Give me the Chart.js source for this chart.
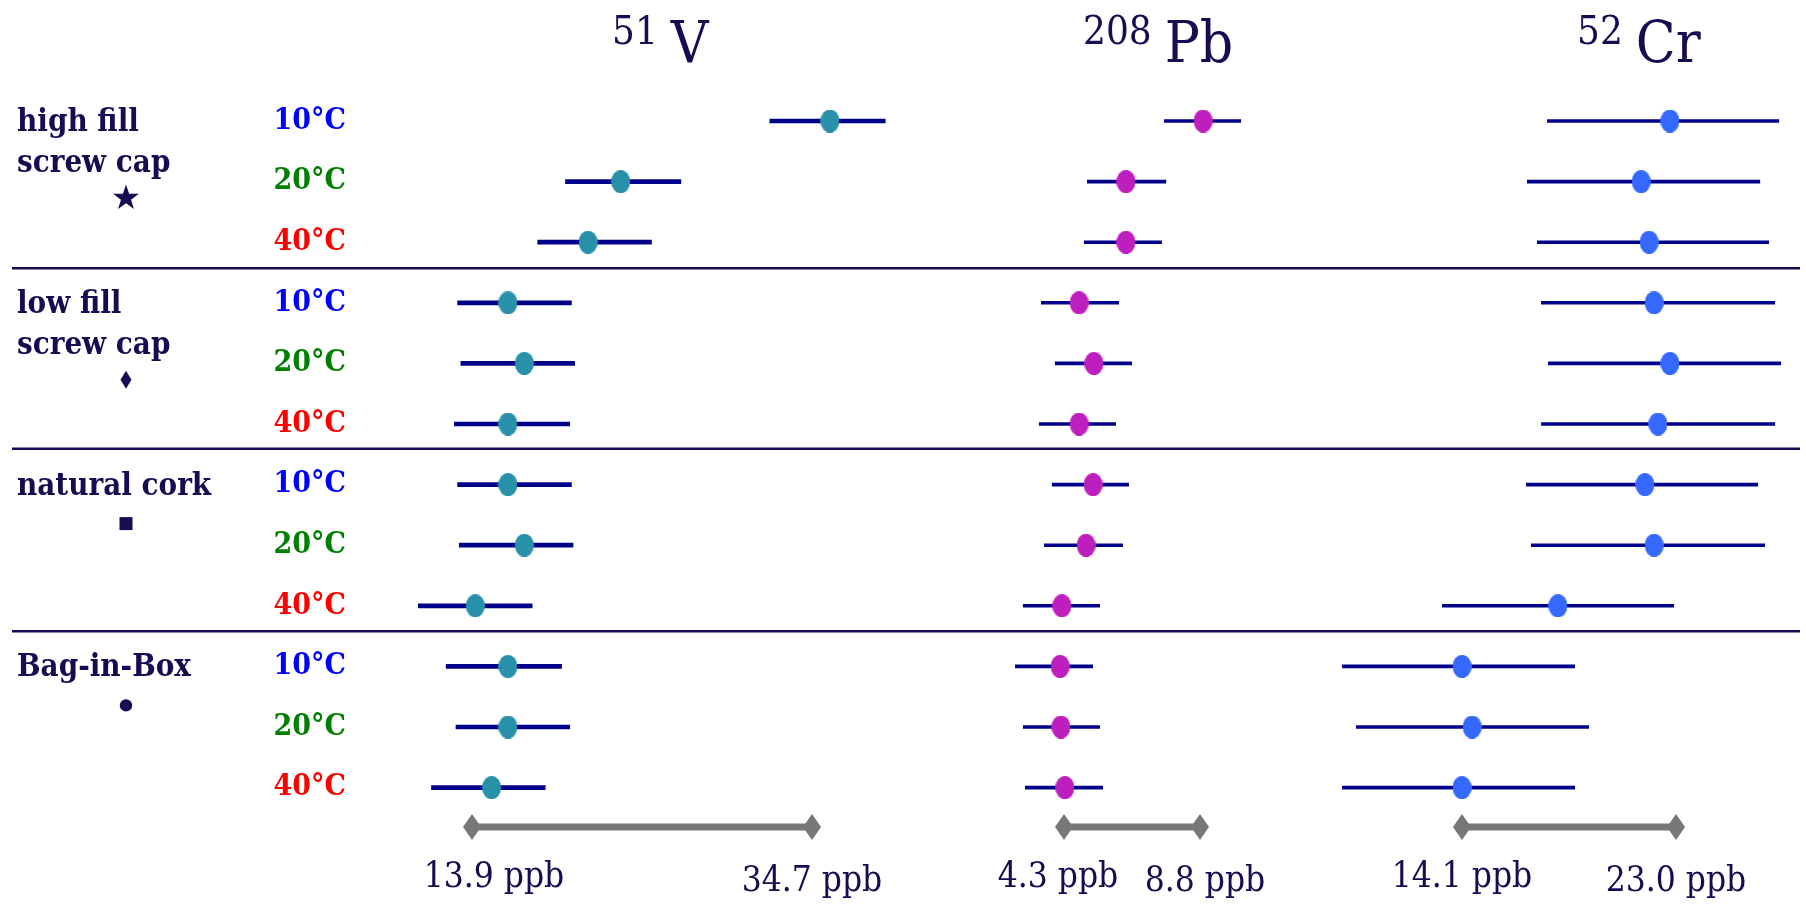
<!DOCTYPE html>
<html>
<head>
<meta charset="utf-8">
<title>V, Pb and Cr by closure and storage temperature</title>
<script src="https://cdn.jsdelivr.net/npm/chart.js"></script>
<style>
  html, body { margin: 0; padding: 0; background: #fff; }
  #chart { display: block; }
</style>
</head>
<body>
<canvas id="chart" width="1806" height="904"></canvas>
<script>
// rows run top to bottom: each closure at 10, 20 and 40 °C
const temps = ['10°C', '20°C', '40°C'];
const tempColors = ['#0000ff', '#008000', '#ff0000'];
const closures = [['high fill', 'screw cap'], ['low fill', 'screw cap'], ['natural cork'], ['Bag-in-Box']];
const closureMarks = ['star', 'diamond', 'square', 'dot'];

const isotopes = ['51', '208', '52'];
const elements = ['V', 'Pb', 'Cr'];

// ppb, mean with low / high end of the error bar
const vMean = [35.8, 23.0, 21.0, 16.1, 17.1, 16.1, 16.1, 17.1, 14.1, 16.1, 16.1, 15.1];
const vLow  = [32.1, 19.6, 17.9, 13.0, 13.2, 12.8, 13.0, 13.1, 10.6, 12.3, 12.9, 11.4];
const vHigh = [39.2, 26.7, 24.9, 20.0, 20.2, 19.9, 20.0, 20.1, 17.6, 19.4, 19.9, 18.4];

const pbMean = [8.90, 6.35, 6.35, 4.80, 5.29, 4.80, 5.26, 5.03, 4.23, 4.17, 4.20, 4.33];
const pbLow  = [7.61, 5.06, 4.96, 3.54, 4.00, 3.47, 3.90, 3.64, 2.94, 2.68, 2.94, 3.01];
const pbHigh = [10.16, 7.68, 7.54, 6.12, 6.55, 6.02, 6.45, 6.25, 5.49, 5.26, 5.49, 5.59];

const crMean = [22.75, 21.55, 21.88, 22.09, 22.75, 22.25, 21.71, 22.09, 18.09, 14.10, 14.52, 14.10];
const crLow  = [17.64, 16.80, 17.22, 17.39, 17.68, 17.39, 16.76, 16.97, 13.27, 9.11, 9.69, 9.11];
const crHigh = [27.29, 26.50, 26.87, 27.12, 27.37, 27.12, 26.41, 26.70, 22.92, 18.80, 19.38, 18.80];

// scale bars under each panel
const vRange = [13.9, 34.7];
const pbRange = [4.3, 8.8];
const crRange = [14.1, 23.0];

// ---- layout ----
const W = 1806, H = 904;
const AXIS_W = 355;
const ROW0 = 121, ROW_H = 60.6;
const RANGE_ROW = 11.65;
const SEPARATORS = [2.43, 5.41, 8.42];
const INK = '#150c52';
const BAR = '#000088';
const SERIF = '"DejaVu Serif Condensed", "DejaVu Serif", serif';

// where the two ends of each scale bar sit on the canvas
const panelPx = [[472, 812], [1064, 1200], [1462, 1676]];
const titleX = [612, 1083, 1577];
const rangeLabelShift = [[22, 0], [-6, 5], [0, 0]];

function axisFor(range, px) {
  const k = (px[1] - px[0]) / (range[1] - range[0]);
  return {
    type: 'linear', display: false,
    min: range[0] - (px[0] - AXIS_W) / k,
    max: range[0] + (W - px[0]) / k
  };
}

function ellipse(color, w, h) {
  const c = document.createElement('canvas');
  c.width = w; c.height = h;
  const g = c.getContext('2d');
  g.fillStyle = color;
  g.beginPath();
  g.ellipse(w / 2, h / 2, w / 2, h / 2, 0, 0, Math.PI * 2);
  g.fill();
  return c;
}

function diamond(color, w, h) {
  const c = document.createElement('canvas');
  c.width = w; c.height = h;
  const g = c.getContext('2d');
  g.fillStyle = color;
  g.beginPath();
  g.moveTo(w / 2, 0); g.lineTo(w, h / 2); g.lineTo(w / 2, h); g.lineTo(0, h / 2);
  g.closePath();
  g.fill();
  return c;
}

const rangeTip = diamond('#777777', 18, 26);

function errorBars(lo, hi) {
  const pts = [];
  lo.forEach((l, i) => {
    pts.push({ x: l, y: i }, { x: hi[i], y: i }, { x: null, y: null });
  });
  return pts;
}

const panels = [
  { id: 'xV', mean: vMean, lo: vLow, hi: vHigh, range: vRange, color: '#2891a9', width: 4.7 },
  { id: 'xPb', mean: pbMean, lo: pbLow, hi: pbHigh, range: pbRange, color: '#be1ebe', width: 3.6 },
  { id: 'xCr', mean: crMean, lo: crLow, hi: crHigh, range: crRange, color: '#3468ff', width: 3.6 }
];

const datasets = [];
const scales = {};
panels.forEach((p, k) => {
  scales[p.id] = axisFor(p.range, panelPx[k]);
  datasets.push({
    label: elements[k],
    xAxisID: p.id,
    data: p.mean.map((m, i) => ({ x: m, y: i })),
    pointStyle: ellipse(p.color, 19, 23),
    pointRadius: 9,
    order: 0
  });
  datasets.push({
    label: elements[k] + ' error',
    xAxisID: p.id,
    data: errorBars(p.lo, p.hi),
    showLine: true,
    borderColor: BAR,
    borderWidth: p.width,
    pointRadius: 0,
    spanGaps: false,
    order: 1
  });
  datasets.push({
    label: elements[k] + ' scale',
    xAxisID: p.id,
    data: p.range.map(v => ({ x: v, y: RANGE_ROW })),
    showLine: true,
    borderColor: '#777777',
    borderWidth: 7,
    pointStyle: rangeTip,
    pointRadius: 9,
    order: 2
  });
});

scales.y = {
  type: 'linear',
  reverse: true,
  min: -ROW0 / ROW_H,
  max: (H - ROW0) / ROW_H,
  grid: { display: false, drawTicks: false },
  border: { display: false },
  afterBuildTicks: s => { s.ticks = vMean.map((_, i) => ({ value: i })); },
  afterFit: s => {
    s.width = AXIS_W;
    s.paddingTop = 0;
    s.paddingBottom = 0;
  },
  ticks: {
    autoSkip: false,
    padding: 9,
    font: { family: SERIF, size: 30, weight: 'bold' },
    color: c => tempColors[c.index % 3],
    callback: (v, i) => temps[i % 3]
  }
};

function drawMark(ctx, kind, x, y) {
  ctx.beginPath();
  if (kind === 'star') {
    for (let i = 0; i < 10; i++) {
      const r = i % 2 ? 5.3 : 13.5;
      const a = -Math.PI / 2 + i * Math.PI / 5;
      ctx.lineTo(x + r * Math.cos(a), y + r * Math.sin(a));
    }
  } else if (kind === 'diamond') {
    ctx.moveTo(x, y - 9); ctx.lineTo(x + 5.5, y); ctx.lineTo(x, y + 9); ctx.lineTo(x - 5.5, y);
  } else if (kind === 'square') {
    ctx.rect(x - 6.5, y - 6.5, 13, 13);
  } else {
    ctx.arc(x, y, 6.2, 0, Math.PI * 2);
  }
  ctx.closePath();
  ctx.fill();
}

const decorations = {
  id: 'decorations',
  beforeDatasetsDraw(chart) {
    const ctx = chart.ctx, y = chart.scales.y;
    ctx.save();
    ctx.strokeStyle = INK;
    ctx.lineWidth = 2.5;
    SEPARATORS.forEach(v => {
      const py = y.getPixelForValue(v);
      ctx.beginPath();
      ctx.moveTo(12, py);
      ctx.lineTo(1800, py);
      ctx.stroke();
    });
    ctx.restore();
  },
  afterDraw(chart) {
    const ctx = chart.ctx, y = chart.scales.y;
    ctx.save();
    ctx.fillStyle = INK;
    ctx.textBaseline = 'alphabetic';

    // closure names and their symbols
    ctx.textAlign = 'left';
    ctx.font = 'bold 31px ' + SERIF;
    closures.forEach((lines, g) => {
      const top = y.getPixelForValue(g * 3);
      lines.forEach((t, k) => ctx.fillText(t, 17, top + 10 + 41 * k));
      drawMark(ctx, closureMarks[g], 126, top + 39 + 38 * (lines.length - 1));
    });

    // isotope headers
    isotopes.forEach((iso, k) => {
      ctx.font = '40px ' + SERIF;
      ctx.fillText(iso, titleX[k], 44);
      const w = ctx.measureText(iso).width;
      ctx.font = '58px ' + SERIF;
      ctx.fillText(elements[k], titleX[k] + w + 13, 62);
    });

    // scale bar values
    ctx.textAlign = 'center';
    ctx.font = '35px ' + SERIF;
    panels.forEach((p, k) => {
      const xs = chart.scales[p.id];
      p.range.forEach((v, j) => {
        ctx.fillText(v.toFixed(1) + ' ppb', xs.getPixelForValue(v) + rangeLabelShift[k][j], 887 + 4 * j);
      });
    });
    ctx.restore();
  }
};

new Chart(document.getElementById('chart'), {
  type: 'scatter',
  data: { datasets },
  options: {
    responsive: false,
    animation: false,
    events: [],
    layout: { padding: 0, autoPadding: false },
    scales,
    plugins: { legend: { display: false }, tooltip: { enabled: false } }
  },
  plugins: [decorations]
});
</script>
</body>
</html>
